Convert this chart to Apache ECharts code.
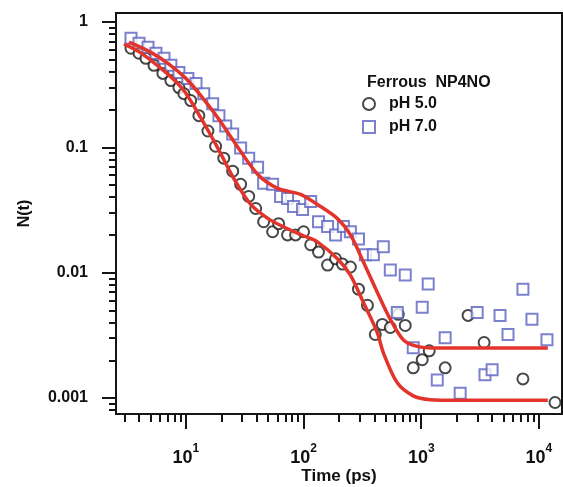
<!DOCTYPE html>
<html>
<head>
<meta charset="utf-8">
<script src="https://cdn.jsdelivr.net/npm/echarts@6/dist/echarts.min.js"></script>
<style>
html,body{margin:0;padding:0;background:#fff;}
#chart{width:563px;height:487px;}
</style>
</head>
<body>
<div id="chart"></div>
<script>
// ---- Data ----
const ph5Time = [3.42,4.00,4.58,5.36,6.38,7.46,8.73,9.62,11.0,12.9,15.4,17.9,21.0,25.0,29.2,34.2,39.2,45.8,54.6,61.4,73.1,85.5,100,115,134,160,187,214,250,293,349,407,467,546,638,731,855,1019,1169,1597,2500,3420,7310,13700];
const ph5N = [0.618,0.563,0.513,0.451,0.389,0.341,0.300,0.268,0.236,0.179,0.135,0.102,0.082,0.0645,0.0507,0.0406,0.0325,0.0255,0.0212,0.0246,0.0200,0.0200,0.0212,0.0167,0.0146,0.0115,0.0129,0.0117,0.0111,0.00738,0.00549,0.00321,0.00386,0.00365,0.00465,0.00379,0.00174,0.00202,0.00238,0.00174,0.00456,0.00277,0.00142,0.00092];

const ph7Time = [3.42,4.00,4.77,5.57,6.52,7.46,8.73,10.4,12.2,14.2,16.9,19.1,21.8,25.0,29.2,34.2,40.7,45.8,54.6,63.8,73.1,82.2,98.1,115,134,160,187,218,250,293,335,392,476,546,626,731,855,1019,1146,1368,1597,2142,2986,3480,4000,4670,5460,7310,8720,11700];
const ph7N = [0.743,0.678,0.629,0.563,0.513,0.451,0.396,0.354,0.323,0.268,0.223,0.179,0.148,0.128,0.0987,0.082,0.0695,0.0516,0.0507,0.0406,0.0391,0.0337,0.0319,0.0370,0.0255,0.0233,0.0200,0.0233,0.0212,0.0186,0.0139,0.0139,0.0161,0.0105,0.00482,0.00957,0.00252,0.00529,0.00810,0.00139,0.00303,0.00109,0.00482,0.00153,0.00168,0.00456,0.00321,0.00738,0.00424,0.00292];

const fit5Time = [2.98,4.0,5.05,7.0,9.62,13.4,18.7,25.5,35.6,50,73.1,100,131,194,250,322,423,476,626,855,1191,2000,11900];
const fit5N = [0.665,0.58,0.495,0.385,0.284,0.172,0.0987,0.0566,0.0350,0.0270,0.0224,0.0197,0.0176,0.0129,0.00957,0.00580,0.00333,0.0023,0.00132,0.00104,0.00097,0.00096,0.00096];

const fit7Time = [3.29,5.0,7.03,10.0,13.4,18.7,25.5,40.7,60.3,94.4,131,194,250,322,423,546,703,925,1368,3000,11900];
const fit7N = [0.690,0.575,0.468,0.355,0.259,0.172,0.112,0.061,0.0471,0.0421,0.0350,0.0270,0.0201,0.0122,0.00698,0.00424,0.00292,0.00258,0.0025,0.0025,0.0025];

// ---- Ticks ----
const xMajor = [10,100,1000,10000];
const xTickExp = ['1','2','3','4'];
const xMinor = [3,4,5,6,7,8,9,20,30,40,50,60,70,80,90,200,300,400,500,600,700,800,900,2000,3000,4000,5000,6000,7000,8000,9000];
const yMajor = [0.001,0.01,0.1,1];
const yTickLabels = ['0.001','0.01','0.1','1'];
const yMinor = [0.0008,0.0009,0.002,0.003,0.004,0.005,0.006,0.007,0.008,0.009,0.02,0.03,0.04,0.05,0.06,0.07,0.08,0.09,0.2,0.3,0.4,0.5,0.6,0.7,0.8,0.9];

const zip = (a,b) => a.map((v,i)=>[v,b[i]]);
const X_MIN = 2.55, X_MAX = 15700, Y_MIN = 0.000745, Y_MAX = 1.18;
const AX = '#151515';
const FONT = 'Liberation Sans, Arial, sans-serif';

function nearestIdx(arr, v){
  let best=0, d=Infinity;
  arr.forEach((a,i)=>{const dd=Math.abs(Math.log10(a)-Math.log10(v)); if(dd<d){d=dd;best=i;}});
  return best;
}

const chart = echarts.init(document.getElementById('chart'));
chart.setOption({
  backgroundColor:'#fff',
  animation:false,
  title:{text:'Ferrous  NP4NO', left:362, top:70, textStyle:{fontFamily:FONT, fontSize:16, fontWeight:'bold', color:'#111'}},
  legend:{
    orient:'vertical', left:357, top:91, itemWidth:12, itemHeight:12, itemGap:7,
    data:['pH 5.0','pH 7.0'],
    textStyle:{fontFamily:FONT, fontSize:16, fontWeight:'bold', color:'#111', padding:[0,0,0,9]}
  },
  grid:{left:116, top:13, right:1, bottom:73, containLabel:false, outerBoundsMode:'none',
        show:true, borderColor:'#111', borderWidth:2, backgroundColor:'transparent'},
  xAxis:[
    {type:'log', logBase:10, min:X_MIN, max:X_MAX, position:'bottom',
     name:'Time (ps)', nameLocation:'middle', nameGap:54, nameMoveOverlap:false,
     nameTextStyle:{fontFamily:FONT, fontSize:17, fontWeight:'bold', color:'#111'},
     axisLine:{onZero:false, lineStyle:{color:AX, width:2}},
     axisTick:{show:true, customValues:xMajor, length:15, lineStyle:{color:AX, width:2}},
     axisLabel:{customValues:xMajor, margin:29,
       formatter:(v)=>'{b|10}{s|'+xTickExp[nearestIdx(xMajor,v)]+'}',
       rich:{b:{fontFamily:FONT, fontSize:18, fontWeight:'bold', color:'#111', lineHeight:24, verticalAlign:'bottom'},
             s:{fontFamily:FONT, fontSize:12, fontWeight:'bold', color:'#111', lineHeight:12, verticalAlign:'top'}}},
     splitLine:{show:false}, minorTick:{show:false}},
    {type:'log', logBase:10, min:X_MIN, max:X_MAX, position:'bottom',
     axisLine:{show:false, onZero:false},
     axisTick:{show:true, customValues:xMinor, length:8, lineStyle:{color:AX, width:2}},
     axisLabel:{show:false}, splitLine:{show:false}}
  ],
  yAxis:[
    {type:'log', logBase:10, min:Y_MIN, max:Y_MAX, position:'left',
     name:'N(t)', nameLocation:'middle', nameGap:83, nameRotate:90, nameMoveOverlap:false,
     nameTextStyle:{fontFamily:FONT, fontSize:16, fontWeight:'bold', color:'#111'},
     axisLine:{onZero:false, lineStyle:{color:AX, width:2}},
     axisTick:{customValues:yMajor, length:14, lineStyle:{color:AX, width:2}},
     axisLabel:{customValues:yMajor, margin:28,
       formatter:(v)=>yTickLabels[nearestIdx(yMajor,v)],
       fontFamily:FONT, fontSize:16, fontWeight:'bold', color:'#111'},
     splitLine:{show:false}},
    {type:'log', logBase:10, min:Y_MIN, max:Y_MAX, position:'left',
     axisLine:{show:false, onZero:false},
     axisTick:{customValues:yMinor, length:7, lineStyle:{color:AX, width:2}},
     axisLabel:{show:false}, splitLine:{show:false}}
  ],
  series:[
    {name:'pH 5.0', type:'scatter', xAxisIndex:0, yAxisIndex:0, symbol:'emptyCircle', symbolSize:11,
     itemStyle:{color:'#1a1a1a', borderColor:'#1a1a1a', borderWidth:1.5}, data:zip(ph5Time,ph5N), z:2},
    {name:'pH 7.0', type:'scatter', xAxisIndex:0, yAxisIndex:0, symbol:'emptyRect', symbolSize:11,
     itemStyle:{color:'#5a62bf', borderColor:'#5a62bf', borderWidth:1.3}, data:zip(ph7Time,ph7N), z:2},
    {name:'fit 5.0', type:'line', xAxisIndex:0, yAxisIndex:0, showSymbol:false, symbol:'none', smooth:0.3,
     lineStyle:{color:'#e3342c', width:3.5}, data:zip(fit5Time,fit5N), z:3},
    {name:'fit 7.0', type:'line', xAxisIndex:0, yAxisIndex:0, showSymbol:false, symbol:'none', smooth:0.3,
     lineStyle:{color:'#e3342c', width:3.5}, data:zip(fit7Time,fit7N), z:3}
  ]
});
</script>
</body>
</html>
